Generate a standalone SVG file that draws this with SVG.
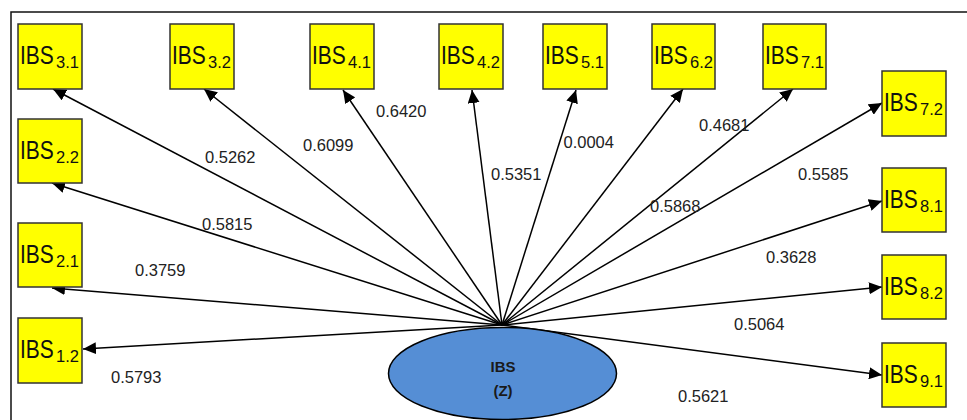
<svg xmlns="http://www.w3.org/2000/svg" width="967" height="420" viewBox="0 0 967 420">
  <style>
    .ind rect { fill: #FFFF00; stroke: #333333; stroke-width: 1.5; }
    .ind text { font-family: "Liberation Sans", Arial, sans-serif; fill: #111111; }
    .ind .main { font-size: 26.5px; }
    .ind .sub { font-size: 16.5px; }
    .conn line { stroke: #000000; stroke-width: 1.5; marker-end: url(#head); }
    .w { font-family: "Liberation Sans", Arial, sans-serif; font-size: 16.5px; fill: #222222; }
    .lat ellipse { fill: #558ED5; stroke: #000000; stroke-width: 1.5; }
    .lat text { font-family: "Liberation Sans", Arial, sans-serif; font-size: 15px; font-weight: bold; fill: #1a1a1a; text-anchor: middle; }
  </style>
  <defs>
    <marker id="head" markerUnits="userSpaceOnUse" markerWidth="14" markerHeight="12" refX="13" refY="6" orient="auto">
      <path d="M0,0 L13,6 L0,12 z" fill="#000000"/>
    </marker>
  </defs>

  <rect width="967" height="420" fill="#FFFFFF"/>
  <!-- outer frame (only top and left edges fall inside the canvas) -->
  <rect x="11" y="12" width="970" height="430" fill="none" stroke="#111111" stroke-width="1.5"/>

  <!-- loadings from the latent construct to each indicator -->
  <g id="connectors" class="conn">
    <line x1="502" y1="325" x2="53" y2="89"/>
    <line x1="502" y1="325" x2="204" y2="89"/>
    <line x1="502" y1="325" x2="343" y2="90"/>
    <line x1="502" y1="325" x2="472" y2="90"/>
    <line x1="502" y1="325" x2="576" y2="90"/>
    <line x1="502" y1="325" x2="683" y2="89"/>
    <line x1="502" y1="325" x2="793" y2="89"/>
    <line x1="502" y1="325" x2="882" y2="103"/>
    <line x1="502" y1="325" x2="52" y2="183"/>
    <line x1="502" y1="325" x2="52" y2="288"/>
    <line x1="502" y1="325" x2="83" y2="349"/>
    <line x1="502" y1="325" x2="882" y2="201"/>
    <line x1="502" y1="325" x2="882" y2="287"/>
    <line x1="502" y1="325" x2="882" y2="375"/>
  </g>

  <!-- loading values -->
  <g id="weights" class="w">
    <text x="205" y="163">0.5262</text>
    <text x="303" y="150.5">0.6099</text>
    <text x="376" y="116.5">0.6420</text>
    <text x="491" y="180">0.5351</text>
    <text x="563.5" y="147.5">0.0004</text>
    <text x="699" y="131">0.4681</text>
    <text x="798" y="180">0.5585</text>
    <text x="650" y="211.5">0.5868</text>
    <text x="202" y="230">0.5815</text>
    <text x="135" y="275.5">0.3759</text>
    <text x="111" y="383">0.5793</text>
    <text x="766" y="263">0.3628</text>
    <text x="734" y="330">0.5064</text>
    <text x="678" y="402">0.5621</text>
  </g>

  <!-- latent construct -->
  <g id="IBS_Z" class="lat">
    <ellipse cx="502.5" cy="373.5" rx="114" ry="46"/>
    <text x="503" y="372">IBS</text>
    <text x="503" y="396">(Z)</text>
  </g>

  <!-- indicators: "IBS" (horizontally condensed) with subscripted item number -->
  <g id="IBS31" class="ind" transform="translate(18,24)">
    <rect width="64" height="65"/>
    <text class="main" transform="translate(2,40) scale(0.79,1)">IBS</text><text class="sub" x="38" y="44">3.1</text>
  </g>
  <g id="IBS32" class="ind" transform="translate(170,24)">
    <rect width="64" height="65"/>
    <text class="main" transform="translate(2,40) scale(0.79,1)">IBS</text><text class="sub" x="38" y="44">3.2</text>
  </g>
  <g id="IBS41" class="ind" transform="translate(310,24)">
    <rect width="64" height="65"/>
    <text class="main" transform="translate(2,40) scale(0.79,1)">IBS</text><text class="sub" x="38" y="44">4.1</text>
  </g>
  <g id="IBS42" class="ind" transform="translate(439,24)">
    <rect width="64" height="65"/>
    <text class="main" transform="translate(2,40) scale(0.79,1)">IBS</text><text class="sub" x="38" y="44">4.2</text>
  </g>
  <g id="IBS51" class="ind" transform="translate(543,24)">
    <rect width="64" height="65"/>
    <text class="main" transform="translate(2,40) scale(0.79,1)">IBS</text><text class="sub" x="38" y="44">5.1</text>
  </g>
  <g id="IBS62" class="ind" transform="translate(652,24)">
    <rect width="63" height="65"/>
    <text class="main" transform="translate(2,40) scale(0.79,1)">IBS</text><text class="sub" x="38" y="44">6.2</text>
  </g>
  <g id="IBS71" class="ind" transform="translate(763,24)">
    <rect width="63" height="65"/>
    <text class="main" transform="translate(2,40) scale(0.79,1)">IBS</text><text class="sub" x="38" y="44">7.1</text>
  </g>
  <g id="IBS72" class="ind" transform="translate(882,71)">
    <rect width="64" height="65"/>
    <text class="main" transform="translate(2,40) scale(0.79,1)">IBS</text><text class="sub" x="38" y="44">7.2</text>
  </g>
  <g id="IBS22" class="ind" transform="translate(18,119)">
    <rect width="64" height="64"/>
    <text class="main" transform="translate(2,40) scale(0.79,1)">IBS</text><text class="sub" x="38" y="44">2.2</text>
  </g>
  <g id="IBS21" class="ind" transform="translate(18,223)">
    <rect width="64" height="64"/>
    <text class="main" transform="translate(2,40) scale(0.79,1)">IBS</text><text class="sub" x="38" y="44">2.1</text>
  </g>
  <g id="IBS12" class="ind" transform="translate(18,318)">
    <rect width="64" height="65"/>
    <text class="main" transform="translate(2,40) scale(0.79,1)">IBS</text><text class="sub" x="38" y="44">1.2</text>
  </g>
  <g id="IBS81" class="ind" transform="translate(882,168)">
    <rect width="64" height="64"/>
    <text class="main" transform="translate(2,40) scale(0.79,1)">IBS</text><text class="sub" x="38" y="44">8.1</text>
  </g>
  <g id="IBS82" class="ind" transform="translate(882,255)">
    <rect width="64" height="64"/>
    <text class="main" transform="translate(2,40) scale(0.79,1)">IBS</text><text class="sub" x="38" y="44">8.2</text>
  </g>
  <g id="IBS91" class="ind" transform="translate(882,343)">
    <rect width="64" height="64"/>
    <text class="main" transform="translate(2,40) scale(0.79,1)">IBS</text><text class="sub" x="38" y="44">9.1</text>
  </g>
</svg>
